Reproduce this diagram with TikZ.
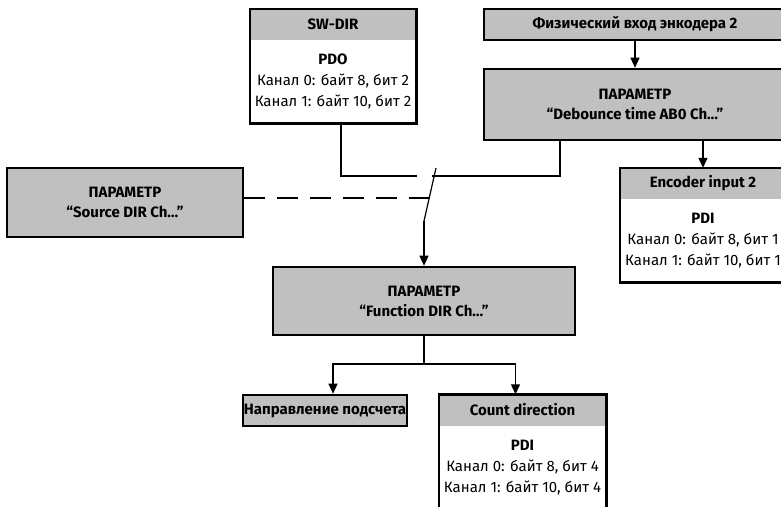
\documentclass[tikz,border=0pt]{standalone}
\usepackage{fontspec}
\setmainfont{Fira Sans}
\usepackage{xcolor}
\usetikzlibrary{arrows.meta, positioning}
\definecolor{boxgray}{HTML}{C0C0C0}

\begin{document}
\begin{tikzpicture}[x=1pt, y=-1pt,
				conn/.style={line width=1.2pt, -{Triangle[length=10pt,width=9pt]}},
				wire/.style={line width=1.2pt},
				parambox/.style={draw, line width=2.6pt, fill=boxgray, inner sep=0pt,
					align=center, font=\fontsize{15}{20}\selectfont\bfseries},
				hdr/.style={fill=boxgray, inner sep=0pt, minimum height=31pt,
					font=\fontsize{15}{20}\selectfont\bfseries},
				body/.style={fill=white, inner sep=0pt, minimum height=83pt, align=center,
					font=\fontsize{15}{21}\selectfont},
				boxline/.style={line width=2.6pt}]
				\useasboundingbox (0,0) rectangle (781,506);
				% top boxes
				\node at (333,24.5) (swhdr) [hdr, minimum width=166pt] {SW-DIR};
				\node (swbody) [body, minimum width=166pt, below=0pt of swhdr] {\textbf{PDO}\\Канал 0: байт 8, бит 2\\Канал 1: байт 10, бит 2};
				\draw[boxline] (swhdr.north west) rectangle (swbody.south east);
				\node at (635,24.5) (fiz) [parambox, minimum width=302pt, minimum height=31pt] {Физический вход энкодера 2};
				\node at (635,104.5) (deb) [parambox, minimum width=302pt, minimum height=71pt] {ПАРАМЕТР\\“Debounce time AB0 Ch…”};
				\node at (703,183.5) (enchdr) [hdr, minimum width=166pt] {Encoder input 2};
				\node (encbody) [body, minimum width=166pt, below=0pt of enchdr] {\textbf{PDI}\\Канал 0: байт 8, бит 1\\Канал 1: байт 10, бит 1};
				\draw[boxline] (enchdr.north west) rectangle (encbody.south east);
				% middle
				\node at (125,202.5) (src) [parambox, minimum width=236pt, minimum height=69pt] {ПАРАМЕТР\\“Source DIR Ch…”};
				\node at (424,301) (func) [parambox, minimum width=302pt, minimum height=68pt] {ПАРАМЕТР\\“Function DIR Ch…”};
				% bottom
				\node at (325,410.5) (nap) [parambox, minimum width=164pt, minimum height=31pt] {Направление подсчета};
				\node at (522.5,410) (cnthdr) [hdr, minimum width=167pt] {Count direction};
				\node (cntbody) [body, minimum width=167pt, below=0pt of cnthdr] {\textbf{PDI}\\Канал 0: байт 8, бит 4\\Канал 1: байт 10, бит 4};
				\draw[boxline] (cnthdr.north west) rectangle (cntbody.south east);
				% switch
				\coordinate (swin) at (417,176);
				\coordinate (debin) at (432,176);
				\coordinate (srcin) at (430,198);
				\coordinate (pivot) at (424,221);
				\coordinate (tip) at (436,168);
				\coordinate (fork) at (424,364);
				\draw[conn] (fiz) -- (deb);
				\draw[conn] (deb.south -| enchdr.north) -- (enchdr.north);
				\draw[wire] ([xshift=8pt]swbody.south) |- (swin);
				\draw[wire] ([xshift=-75pt]deb.south) |- (debin);
				\draw[wire, dash pattern=on 21pt off 12pt] (src.east |- srcin) -- (srcin);
				\draw[wire] (pivot) -- (tip);
				\draw[conn] (pivot) -- (func.north);
				\draw[wire] (func.south) -- (fork);
				\draw[conn] (fork) -| ([xshift=8pt]nap.north);
				\draw[conn] (fork) -| ([xshift=-7pt]cnthdr.north);
			\end{tikzpicture}
\end{document}
